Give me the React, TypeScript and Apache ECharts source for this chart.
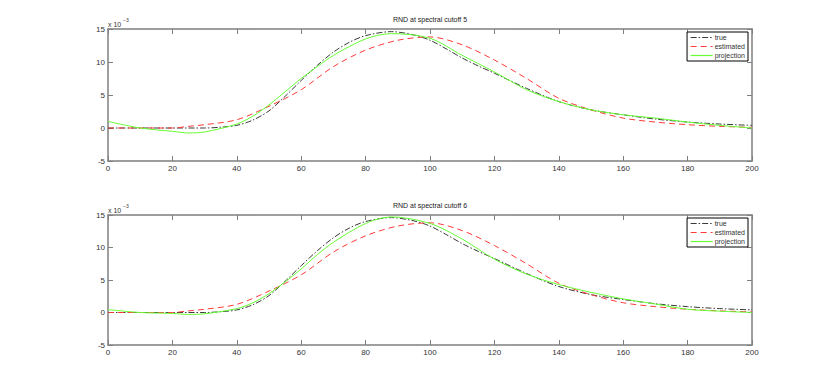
import React, { useEffect, useRef } from "react";
import * as echarts from "echarts";

const trueX = [0, 10, 20, 30, 35, 40, 45, 50, 55, 60, 65, 70, 75, 80, 88, 95, 100, 105, 110, 115, 120, 130, 140, 150, 160, 170, 180, 190, 200];
const trueVals = [0, 0, 0, 0, 0.12, 0.4, 1.2, 2.6, 4.8, 7.2, 9.5, 11.5, 13.0, 14.0, 14.6, 14.1, 13.3, 12.0, 10.6, 9.4, 8.3, 6.0, 4.0, 2.75, 2.0, 1.35, 0.9, 0.6, 0.4];

const estX = [0, 10, 20, 25, 30, 40, 50, 60, 70, 80, 90, 100, 110, 120, 130, 140, 150, 160, 170, 180, 190, 200];
const estVals = [0, 0, 0, 0.25, 0.5, 1.25, 3.3, 5.8, 9.3, 11.8, 13.3, 13.8, 12.6, 10.3, 7.5, 4.5, 2.75, 1.5, 0.9, 0.5, 0.25, 0.1];

const projX = [0, 10, 20, 25, 30, 40, 45, 50, 55, 60, 65, 70, 80, 88, 100, 110, 120, 130, 140, 150, 160, 170, 180, 190, 200];
const proj5Vals = [1.0, 0, -0.5, -0.75, -0.6, 0.6, 1.8, 3.5, 5.5, 7.5, 9.3, 11.0, 13.5, 14.3, 13.6, 11.0, 8.5, 5.8, 4.0, 2.75, 2.0, 1.5, 0.9, 0.4, 0];
const proj6Vals = [0.45, 0, -0.15, -0.3, -0.2, 0.6, 1.5, 2.9, 4.7, 6.7, 8.9, 10.8, 13.7, 14.7, 13.7, 11.3, 8.2, 5.9, 4.3, 3.1, 2.1, 1.3, 0.5, 0.2, 0];

const titles = ["RND at spectral cutoff 5", "RND at spectral cutoff 6"];
const legendNames = ["true", "estimated", "projection"];
const yTicks = { min: -5, max: 15, interval: 5 };
const xTicks = { min: 0, max: 200, interval: 20 };

const FONT = "Liberation Sans, Arial, sans-serif";

export default function App() {
  const ref = useRef<HTMLDivElement>(null);
  useEffect(() => {
    document.body.style.margin = "0";
    const chart = echarts.init(ref.current!, null, { renderer: "svg" });
    const grids = [
      { left: 108, right: 78, top: 29, height: 132 },
      { left: 108, right: 78, top: 215, height: 130 },
    ];
    const styles: Record<string, { color: string; type: any }> = {
      true: { color: "#3a3a3a", type: [6, 2, 1.5, 2] },
      estimated: { color: "#ff3b3b", type: [6, 4] },
      projection: { color: "#66ff33", type: "solid" },
    };
    const axisLine = { show: true, lineStyle: { color: "#7f7f7f", width: 1.5 } };
    const axisTick = { show: true, inside: true, length: 5, lineStyle: { color: "#7f7f7f", width: 1 } };
    const label = { color: "#333", fontSize: 8, fontFamily: FONT };
    const xAxis: any[] = [];
    const yAxis: any[] = [];
    grids.forEach((g, i) => {
      xAxis.push({
        type: "value", gridIndex: i, ...xTicks, position: "bottom",
        axisLine: { ...axisLine, onZero: false }, axisTick, axisLabel: { ...label, margin: 3 }, splitLine: { show: false },
      });
      xAxis.push({
        type: "value", gridIndex: i, ...xTicks, position: "top",
        axisLine: { ...axisLine, onZero: false }, axisTick, axisLabel: { show: false }, splitLine: { show: false },
      });
      yAxis.push({
        type: "value", gridIndex: i, ...yTicks, position: "left",
        axisLine: { ...axisLine, onZero: false }, axisTick, axisLabel: { ...label, margin: 3 }, splitLine: { show: false },
      });
      yAxis.push({
        type: "value", gridIndex: i, ...yTicks, position: "right",
        axisLine: { ...axisLine, onZero: false }, axisTick, axisLabel: { show: false }, splitLine: { show: false },
      });
    });
    const mk = (name: string, xv: number[], vals: number[], gi: number) => ({
      name, type: "line", xAxisIndex: gi * 2, yAxisIndex: gi * 2,
      data: xv.map((x, k) => [x, vals[k]]),
      smooth: 0.3, showSymbol: false, symbol: "none",
      lineStyle: { color: styles[name].color, width: 1, type: styles[name].type },
      itemStyle: { color: styles[name].color },
    });
    const series: any[] = [];
    [proj5Vals, proj6Vals].forEach((pv, gi) => {
      series.push(mk("true", trueX, trueVals, gi));
      series.push(mk("estimated", estX, estVals, gi));
      series.push(mk("projection", projX, pv, gi));
    });
    const legends = grids.map((g) => ({
      data: legendNames.map((n) => ({
        name: n,
        itemStyle: { opacity: 0 },
        lineStyle: { color: styles[n].color, width: 1.2, type: styles[n].type, opacity: 1 },
      })),
      orient: "vertical",
      right: 82,
      top: g.top + 3,
      itemWidth: 22,
      itemHeight: 6,
      itemGap: 2,
      padding: [2, 3, 2, 3],
      borderColor: "#000",
      borderWidth: 1,
      backgroundColor: "#fff",
      selectedMode: false,
      textStyle: { fontSize: 7, color: "#333", fontFamily: FONT, padding: [0, 0, 0, -3] },
    }));
    const graphic: any[] = [];
    grids.forEach((g, i) => {
      graphic.push({
        type: "text", x: 430, y: g.top - 10,
        style: { text: titles[i], font: `7px ${FONT}`, fill: "#222", textAlign: "center", textVerticalAlign: "middle" },
      });
      graphic.push({
        type: "text", x: 108, y: g.top - 5,
        style: { text: "x 10", font: `7px ${FONT}`, fill: "#333", textVerticalAlign: "middle" },
      });
      graphic.push({
        type: "text", x: 123, y: g.top - 9,
        style: { text: "−3", font: `5px ${FONT}`, fill: "#333", textVerticalAlign: "middle" },
      });
    });
    chart.setOption({
      animation: false,
      backgroundColor: "#fff",
      grid: grids,
      xAxis, yAxis, series, legend: legends, graphic,
    });
    return () => chart.dispose();
  }, []);
  return <div ref={ref} style={{ position: "fixed", left: 0, top: 0, width: 830, height: 388 }} />;
}
